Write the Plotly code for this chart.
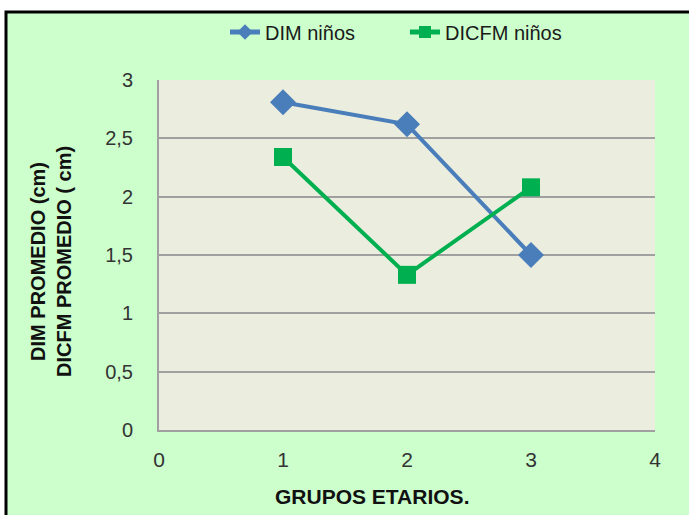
import plotly.graph_objects as go

grupos = [1, 2, 3]
dim_ninos = [2.81, 2.62, 1.50]
dicfm_ninos = [2.34, 1.33, 2.08]
y_ticks = [0, 0.5, 1, 1.5, 2, 2.5, 3]
y_tick_labels = ["0", "0,5", "1", "1,5", "2", "2,5", "3"]
x_ticks = [0, 1, 2, 3, 4]

FONT = "Liberation Sans, Arial, sans-serif"

fig = go.Figure()
fig.add_trace(go.Scatter(
    x=grupos, y=dim_ninos, name="DIM niños", mode="lines+markers",
    line=dict(color="#4A7EBB", width=4),
    marker=dict(symbol="diamond", size=20, color="#4A7EBB"),
))
fig.add_trace(go.Scatter(
    x=grupos, y=dicfm_ninos, name="DICFM niños", mode="lines+markers",
    line=dict(color="#00B050", width=4),
    marker=dict(symbol="square", size=18, color="#00B050"),
))

W, H = 689, 515
L, R, T, B = 159, 34, 80, 85
pw, ph = W - L - R, H - T - B

def px(x):
    return (x - L) / pw

def py(y):
    return (H - B - y) / ph

fig.update_layout(
    width=W, height=H,
    margin=dict(l=L, r=R, t=T, b=B),
    paper_bgcolor="white",
    plot_bgcolor="#EBEEDF",
    font=dict(family=FONT, color="#262626"),
    showlegend=True,
    legend=dict(orientation="h", x=px(225), xanchor="left", y=py(32), yanchor="middle",
                font=dict(size=20, color="#1a1a1a"), bgcolor="rgba(0,0,0,0)",
                entrywidth=135, tracegroupgap=0, itemsizing="constant"),
    xaxis=dict(range=[0, 4], tickvals=x_ticks, showgrid=False, zeroline=False,
               showline=True, linecolor="#A0A0A0", linewidth=2,
               tickfont=dict(size=21, color="#333333"), ticks="",
               ticklabelstandoff=10),
    yaxis=dict(range=[0, 3], tickvals=y_ticks, ticktext=y_tick_labels,
               showgrid=True, gridcolor="#A0A0A0", gridwidth=1.5, zeroline=False,
               showline=True, linecolor="#A0A0A0", linewidth=2,
               tickfont=dict(size=20, color="#333333"), ticks="",
               ticklabelstandoff=20),
    shapes=[
        dict(type="rect", xref="paper", yref="paper", layer="below",
             x0=px(6), x1=px(720), y0=py(540), y1=py(12),
             fillcolor="#CCFFCC", line=dict(color="black", width=3)),
        dict(type="rect", xref="paper", yref="paper", layer="below",
             x0=0, x1=1, y0=0, y1=1,
             fillcolor="#EBEEDF", line=dict(width=0)),
    ],
    annotations=[
        dict(text="<b>GRUPOS ETARIOS.</b>", xref="paper", yref="paper",
             x=px(372), y=py(496), showarrow=False, xanchor="center", yanchor="middle",
             font=dict(size=21, color="#111111")),
        dict(text="<b>DIM PROMEDIO (cm)<br>DICFM PROMEDIO ( cm)</b>", xref="paper", yref="paper",
             x=px(51), y=py(262), showarrow=False, xanchor="center", yanchor="middle",
             textangle=-90, font=dict(size=20, color="#111111")),
    ],
)

fig.write_html("out.html", config={"displayModeBar": False},
               post_script="document.body.style.margin='0';")
